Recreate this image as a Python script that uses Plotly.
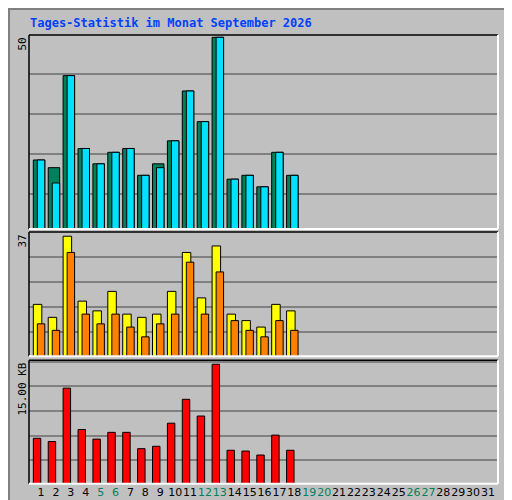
import plotly.graph_objects as go

days = list(range(1, 19))
anfragen = [18, 16, 40, 21, 17, 20, 21, 14, 17, 23, 36, 28, 50, 13, 14, 11, 20, 14]
dateien = [18, 12, 40, 21, 17, 20, 21, 14, 16, 23, 36, 28, 50, 13, 14, 11, 20, 14]
besuche = [16, 12, 37, 17, 14, 20, 13, 12, 13, 20, 32, 18, 34, 13, 11, 9, 16, 14]
rechner = [10, 8, 32, 13, 10, 13, 9, 6, 10, 13, 29, 13, 26, 11, 8, 6, 11, 8]
volumen = [5.7, 5.3, 12.0, 6.8, 5.6, 6.45, 6.45, 4.4, 4.7, 7.6, 10.6, 8.5, 15.0, 4.2, 4.1, 3.6, 6.1, 4.2]
weekend = [5, 6, 12, 13, 19, 20, 26, 27]
all_days = list(range(1, 32))

GREEN = "#00805c"
CYAN = "#00e0ff"
YELLOW = "#ffff00"
ORANGE = "#ff8000"
RED = "#ff0000"
BLUE = "#0040ff"
BG = "#c0c0c0"
MONO = "DejaVu Sans Mono"

line = dict(color="black", width=1)
fig = go.Figure()
fig.add_bar(x=days, y=anfragen, offset=-0.52, width=0.77, marker=dict(color=GREEN, line=line), xaxis="x", yaxis="y")
fig.add_bar(x=days, y=dateien, offset=-0.25, width=0.5, marker=dict(color=CYAN, line=line), xaxis="x", yaxis="y")
fig.add_bar(x=days, y=besuche, offset=-0.52, width=0.57, marker=dict(color=YELLOW, line=line), xaxis="x2", yaxis="y2")
fig.add_bar(x=days, y=rechner, offset=-0.25, width=0.5, marker=dict(color=ORANGE, line=line), xaxis="x2", yaxis="y2")
fig.add_bar(x=days, y=volumen, offset=-0.52, width=0.5, marker=dict(color=RED, line=line), xaxis="x3", yaxis="y3")

ticktext = [f'<span style="color:{GREEN}">{d}</span>' if d in weekend else str(d) for d in all_days]
xr = [0.19, 31.67]
xdom = [21 / 512, 490 / 512]
common_x = dict(range=xr, domain=xdom, showgrid=False, zeroline=False, showline=False, automargin=False)
grid = dict(showgrid=True, gridcolor="#808080", gridwidth=1.5, zeroline=False, showticklabels=False,
            ticks="", automargin=False)

fig.update_layout(
    width=512, height=500, margin=dict(l=0, r=0, t=0, b=0, autoexpand=False),
    paper_bgcolor=BG, plot_bgcolor=BG, showlegend=False, barmode="overlay",
    xaxis=dict(**common_x, anchor="y", showticklabels=False),
    xaxis2=dict(**common_x, anchor="y2", showticklabels=False),
    xaxis3=dict(**common_x, anchor="y3", tickvals=all_days, ticktext=ticktext, ticks="", tickangle=0,
                tickfont=dict(family="DejaVu Sans", size=11, color="black")),
    yaxis=dict(**grid, domain=[0.558, 0.946], range=[0, 50.6], tick0=9.2, dtick=10.45),
    yaxis2=dict(**grid, domain=[0.3034, 0.552], range=[0, 38.3], tick0=7.4, dtick=7.7),
    yaxis3=dict(**grid, domain=[0.0486, 0.2954], range=[0, 15.5], tick0=2.93, dtick=3.1),
    font=dict(family=MONO),
)

shapes = [dict(type="rect", xref="paper", yref="paper", x0=0.002, x1=0.998, y0=0.002, y1=0.998,
               line=dict(color="#808080", width=2))]
for ax in ["", "2", "3"]:
    xd, yd = f"x{ax} domain", f"y{ax} domain"
    shapes.append(dict(type="line", xref=xd, yref=yd, x0=0, x1=1, y0=1, y1=1, line=dict(color="black", width=1.5)))
    shapes.append(dict(type="line", xref=xd, yref=yd, x0=0, x1=0, y0=0, y1=1, line=dict(color="black", width=1.5)))
    shapes.append(dict(type="line", xref=xd, yref=yd, x0=0, x1=1, y0=0, y1=0, line=dict(color="white", width=2)))
    shapes.append(dict(type="line", xref=xd, yref=yd, x0=1, x1=1, y0=0, y1=1, line=dict(color="white", width=2)))
fig.update_layout(shapes=shapes)

ann = [
    dict(text="<b>Tages-Statistik im Monat September 2026</b>", x=20 / 512, y=1 - 15 / 500, xanchor="left",
         yanchor="middle", font=dict(family=MONO, size=12, color=BLUE)),
    dict(text="50", x=14 / 512, y=1 - 28 / 500, textangle=-90, xanchor="center", yanchor="top",
         font=dict(family=MONO, size=11, color="black")),
    dict(text="37", x=14 / 512, y=1 - 225 / 500, textangle=-90, xanchor="center", yanchor="top",
         font=dict(family=MONO, size=11, color="black")),
    dict(text="15.00 KB", x=14 / 512, y=1 - 353 / 500, textangle=-90, xanchor="center", yanchor="top",
         font=dict(family=MONO, size=11, color="black")),
]
sep = '<span style="color:black"> / </span>'
parts = [("Volumen", RED), ("Vol. In", BLUE), ("Vol. Out", GREEN), ("Rechner", ORANGE),
         ("Besuche", YELLOW), ("Seiten", CYAN), ("Dateien", BLUE), ("Anfragen", GREEN)]
legend = sep.join(f'<span style="color:{c}">{t}</span>' for t, c in parts)
ann.append(dict(text=legend, x=500 / 512, y=1 - 478 / 500, textangle=-90, xanchor="center", yanchor="bottom",
                font=dict(family=MONO, size=9.5)))
for a in ann:
    a.update(xref="paper", yref="paper", showarrow=False)
fig.update_layout(annotations=ann)

fig.write_html("out.html")
